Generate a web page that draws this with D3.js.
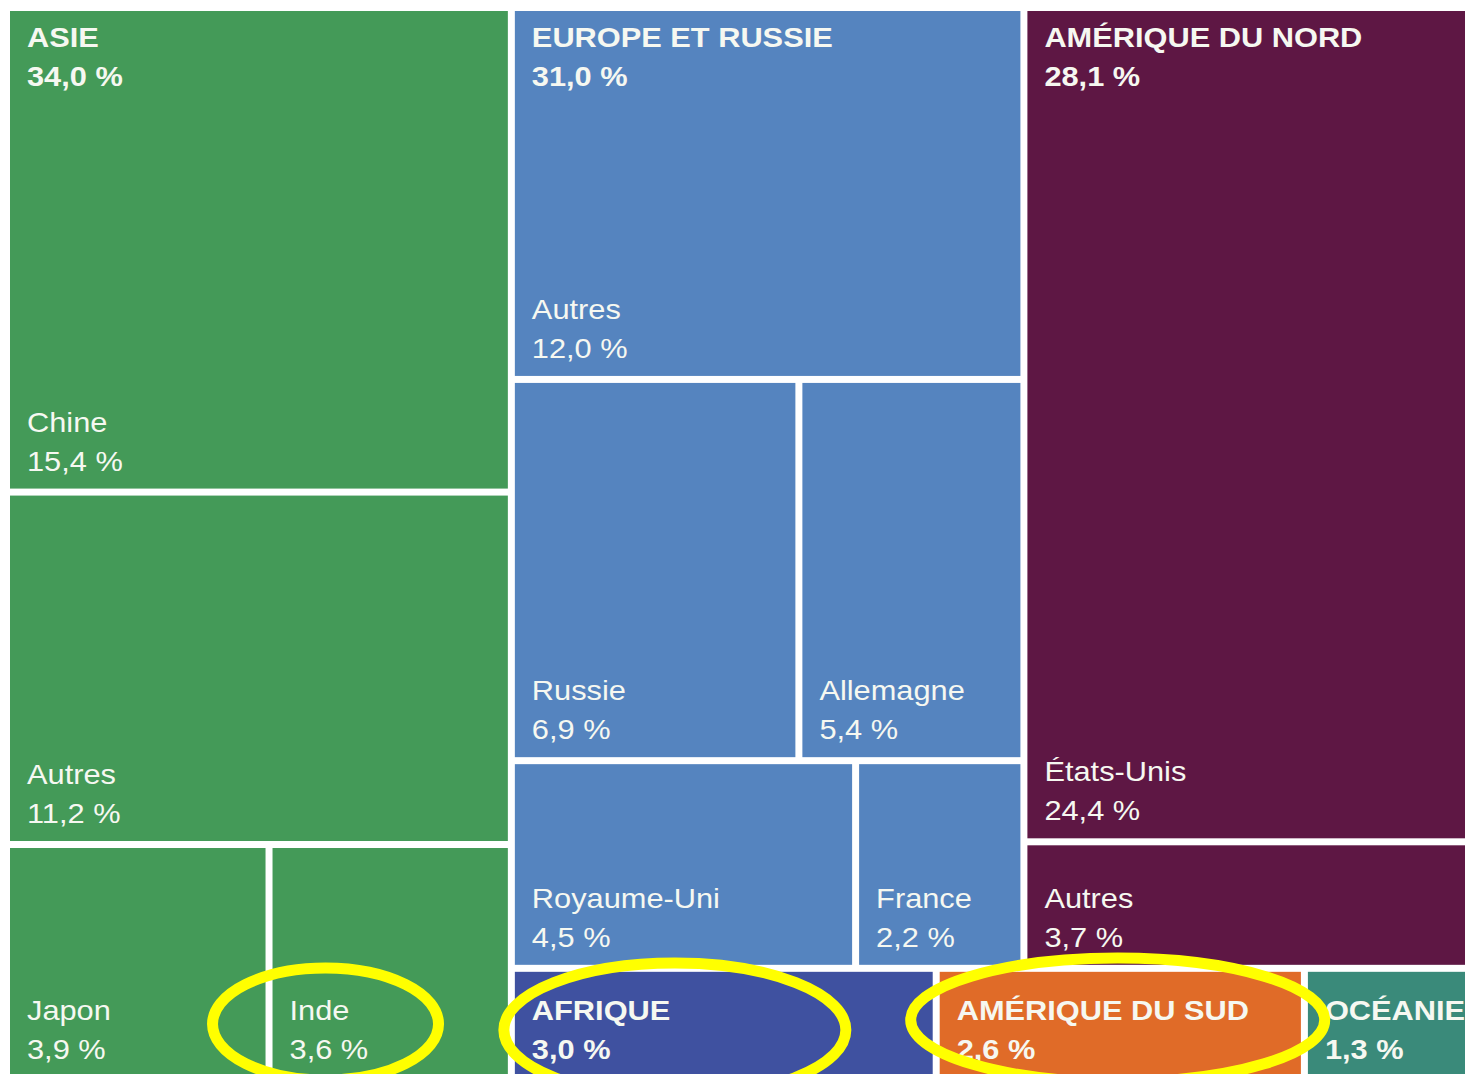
<!DOCTYPE html>
<meta charset="utf-8">
<style>
  body { margin: 0; background: #fff; }
  svg { display: block; overflow: hidden; }
  text { font-family: "Liberation Sans", Arial, sans-serif; font-size: 27px; fill: #f6f8f1; }
</style>
<svg width="1465" height="1074"></svg>
<script src="https://d3js.org/d3.v7.min.js"></script>
<script>

// regions (share of total, %)
var regions = ["ASIE", "EUROPE ET RUSSIE", "AMÉRIQUE DU NORD", "AFRIQUE", "AMÉRIQUE DU SUD", "OCÉANIE"];
var regionValues = [34.0, 31.0, 28.1, 3.0, 2.6, 1.3];
var regionColors = ["#449a58", "#5584bf", "#5e1744", "#3f51a0", "#e06b28", "#3a8a7a"];

// countries inside the three big regions, and the row each one sits in
var asieNames = ["Chine", "Autres", "Japon", "Inde"];
var asieValues = [15.4, 11.2, 3.9, 3.6];
var asieRows = [0, 1, 2, 2];

var europeNames = ["Autres", "Russie", "Allemagne", "Royaume-Uni", "France"];
var europeValues = [12.0, 6.9, 5.4, 4.5, 2.2];
var europeRows = [0, 1, 1, 2, 2];

var nordNames = ["États-Unis", "Autres"];
var nordValues = [24.4, 3.7];
var nordRows = [0, 1];

// hand drawn circles on the picture
var marked = ["Inde", "AFRIQUE", "AMÉRIQUE DU SUD"];

var svg = d3.select("svg"),
    width = 1475,
    height = 1066;

var fr = d3.formatLocale({decimal: ",", thousands: " ", grouping: [3], currency: ["", " €"]});
var pct = function(v) { return fr.format(".1f")(v) + " %"; };
var color = d3.scaleOrdinal(regions, regionColors);

function rowsOf(names, values, rows) {
  var out = [];
  names.forEach(function(n, i) {
    if (!out[rows[i]]) out[rows[i]] = {split: "x", children: []};
    out[rows[i]].children.push({name: n, value: values[i]});
  });
  return out;
}

function region(i, names, values, rows) {
  var d = {name: regions[i], total: regionValues[i], region: true};
  if (names) { d.split = "y"; d.children = rowsOf(names, values, rows); }
  else d.value = regionValues[i];
  return d;
}

var data = {split: "x", children: [
  region(0, asieNames, asieValues, asieRows),
  {split: "y", children: [
    {split: "x", children: [
      region(1, europeNames, europeValues, europeRows),
      region(2, nordNames, nordValues, nordRows)
    ]},
    {split: "x", children: [region(3), region(4), region(5)]}
  ]}
]};

function tile(node, x0, y0, x1, y1) {
  (node.data.split === "y" ? d3.treemapSlice : d3.treemapDice)(node, x0, y0, x1, y1);
}

var root = d3.hierarchy(data).sum(function(d) { return d.children ? 0 : d.value; });

d3.treemap()
    .tile(tile)
    .size([width, height])
    .paddingInner(7)(root);

var g = svg.append("g").attr("transform", "translate(10,11)");

function regionOf(d) {
  return d.ancestors().find(function(a) { return a.data.region; });
}

g.selectAll("rect")
  .data(root.leaves())
  .join("rect")
    .attr("x", function(d) { return d.x0; })
    .attr("y", function(d) { return d.y0; })
    .attr("width", function(d) { return d.x1 - d.x0; })
    .attr("height", function(d) { return d.y1 - d.y0; })
    .attr("fill", function(d) { return color(regionOf(d).data.name); });

// the original type is wider than Liberation Sans, so stretch it a bit
function label(x, y, name, value, bold) {
  var t = g.append("text")
      .attr("transform", "translate(" + x + "," + y + ") scale(1.14,1)")
      .attr("font-weight", bold ? "bold" : null);
  t.append("tspan").attr("x", 0).attr("y", 0).text(name);
  t.append("tspan").attr("x", 0).attr("y", 39).text(value);
}

// leaf labels sit at the bottom left of their cell
root.leaves().forEach(function(d) {
  var isRegion = !!d.data.region;
  label(d.x0 + 17, d.y1 - 57, d.data.name, pct(isRegion ? d.data.total : d.data.value), isRegion);
});

// region titles at the top left of their group
root.descendants().filter(function(d) { return d.data.region && d.children; }).forEach(function(d) {
  label(d.x0 + 17, d.y0 + 36, d.data.name, pct(d.data.total), true);
});

// yellow rings
var ringShape = {
  "Inde":            {dx: 53,  dy: -53, rx: 113, ry: 56},
  "AFRIQUE":         {dx: 160, dy: -47, rx: 171, ry: 67},
  "AMÉRIQUE DU SUD": {dx: 178, dy: -57, rx: 207, ry: 62}
};

g.selectAll("ellipse")
  .data(root.leaves().filter(function(d) { return marked.indexOf(d.data.name) >= 0; }))
  .join("ellipse")
    .attr("cx", function(d) { return d.x0 + ringShape[d.data.name].dx; })
    .attr("cy", function(d) { return d.y1 + ringShape[d.data.name].dy; })
    .attr("rx", function(d) { return ringShape[d.data.name].rx; })
    .attr("ry", function(d) { return ringShape[d.data.name].ry; })
    .attr("fill", "none")
    .attr("stroke", "#ffff00")
    .attr("stroke-width", 11);

</script>
